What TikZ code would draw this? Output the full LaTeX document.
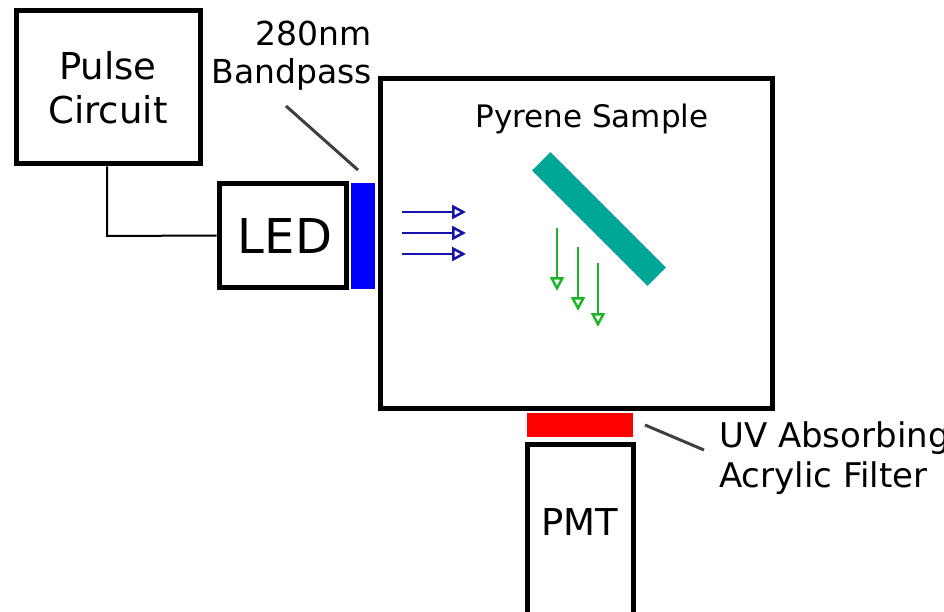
\documentclass[tikz,border=0pt]{standalone}
\usepackage{fontspec}
\setmainfont{DejaVu Sans}
\usetikzlibrary{arrows.meta}
\definecolor{tealbar}{RGB}{0,166,150}
\definecolor{beamblue}{RGB}{20,20,170}
\definecolor{fluorgreen}{RGB}{30,180,40}
\definecolor{leader}{RGB}{64,64,64}
\begin{document}
\begin{tikzpicture}[x=1pt,y=-1pt,
  box/.style={draw=black,line width=5pt,inner sep=0pt,align=center},
  wire/.style={draw=black,line width=2pt},
  leadline/.style={draw=leader,line width=3pt},
  beam/.style={draw=beamblue,line width=2.5pt,-{Triangle[open,length=14pt,width=14pt]}},
  fluor/.style={draw=fluorgreen,line width=2.5pt,-{Triangle[open,length=14pt,width=14pt]}},
  lbl/.style={inner sep=0pt}
]
\clip (0,0) rectangle (944,612);
\fill[white] (0,0) rectangle (944,612);

% Pulse circuit
\node[box,minimum width=184pt,minimum height=153pt,font=\fontsize{37}{44}\selectfont] (pulse) at (108,87.5) {Pulse\\Circuit};
% LED
\node[box,minimum width=127pt,minimum height=103pt] (led) at (282.5,235.5) {};
\node[lbl,anchor=base,font=\fontsize{48}{54}\selectfont] (ledlbl) at (285,253) {LED};
% bandpass filter
\node[fill=blue,minimum width=24pt,minimum height=106pt,inner sep=0pt] (bp) at (363,236) {};
% sample box
\node[box,minimum width=392pt,minimum height=329pt] (sample) at (576,243.5) {};
% red filter
\node[fill=red,minimum width=106pt,minimum height=24pt,inner sep=0pt] (uvf) at (580,425) {};
% PMT
\node[box,minimum width=106pt,minimum height=200pt] (pmt) at (580,544) {};
\node[lbl,anchor=base,font=\fontsize{37}{44}\selectfont] (pmtlbl) at (580,535) {PMT};

% wire
\coordinate (wbend) at (107,236);
\draw[wire] (pulse.south -| wbend) -- (wbend) -- (led.west);

% labels
\node[lbl,anchor=base east,font=\fontsize{33}{40}\selectfont] (bplbl1) at (372,46) {280nm};
\node[lbl,anchor=base east,font=\fontsize{33}{40}\selectfont] (bplbl2) at (372,84) {Bandpass};
\coordinate (bpa) at (286,106);
\coordinate (bpb) at (358,170);
\draw[leadline] (bpa) -- (bpb);

\node[lbl,anchor=base,font=\fontsize{31}{36}\selectfont] (pyr) at (592,128) {Pyrene Sample};

\node[lbl,anchor=base west,font=\fontsize{34}{40}\selectfont] (uvlbl1) at (719,447) {UV Absorbing};
\node[lbl,anchor=base west,font=\fontsize{34}{40}\selectfont] (uvlbl2) at (719,487) {Acrylic Filter};
\coordinate (uva) at (645,425);
\coordinate (uvb) at (704,450);
\draw[leadline] (uva) -- (uvb);

% pyrene crystal
\node[fill=tealbar,minimum width=163pt,minimum height=26pt,inner sep=0pt,rotate=-45] (crystal) at (599,219) {};

% excitation beams
\coordinate (b1s) at (402,212); \coordinate (b1e) at (466,212);
\coordinate (b2s) at (402,233); \coordinate (b2e) at (466,233);
\coordinate (b3s) at (402,254); \coordinate (b3e) at (466,254);
\draw[beam] (b1s) -- (b1e);
\draw[beam] (b2s) -- (b2e);
\draw[beam] (b3s) -- (b3e);

% fluorescence
\coordinate (g1s) at (557,228); \coordinate (g1e) at (557,291);
\coordinate (g2s) at (578,247); \coordinate (g2e) at (578,311);
\coordinate (g3s) at (598,263); \coordinate (g3e) at (598,327);
\draw[fluor] (g1s) -- (g1e);
\draw[fluor] (g2s) -- (g2e);
\draw[fluor] (g3s) -- (g3e);
\end{tikzpicture}
\end{document}
